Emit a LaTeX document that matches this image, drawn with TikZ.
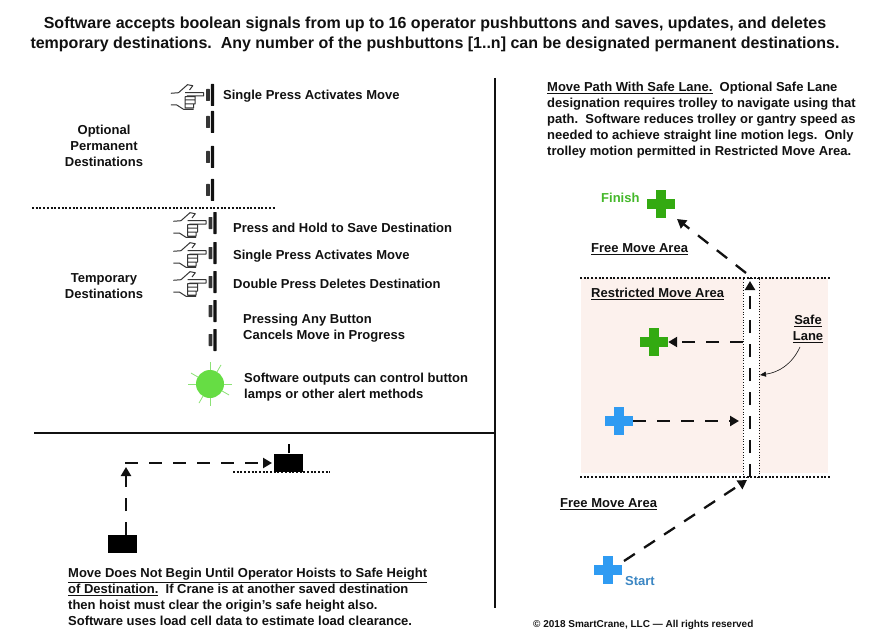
\documentclass[tikz,border=0pt]{standalone}
\usepackage{fontspec}
\setmainfont{Liberation Sans}
\usetikzlibrary{arrows.meta,positioning}
\definecolor{craneInk}{HTML}{111111}
\definecolor{craneGreen}{HTML}{33AA11}
\definecolor{craneFinish}{HTML}{44B82A}
\definecolor{craneBlue}{HTML}{2F9BF2}
\definecolor{craneStart}{HTML}{3C87C4}
\definecolor{craneLamp}{HTML}{66DD44}
\definecolor{craneRay}{HTML}{8CE276}
\definecolor{craneArea}{HTML}{FCF1ED}
\tikzset{
  pushButton/.pic={
    \fill[craneInk,rounded corners=0.6pt] (-1.7,-11) rectangle (1.7,11);
    \fill[craneInk!85,rounded corners=0.6pt] (-6.5,-6) rectangle (-2.6,6);
  },
  pointHand/.pic={
    \draw[craneInk!85,line width=1pt,line join=round]
      (-41.7,1.7) -- (-34,2.3) -- (-25,10.3) -- (-19.7,9.3) -- (-23,5)
      (-27.3,2.3) -- (-9,2.3) -- (-9,-1) -- (-25.7,-1)
      (-27.3,-1.7) rectangle (-17.5,-5)
      (-27.3,-5) rectangle (-17.5,-9)
      (-27.3,-9) rectangle (-19,-13)
      (-41.7,-10) -- (-35.7,-10) -- (-29,-14.3) -- (-19,-14.3);
  }
}
\begin{document}
\begin{tikzpicture}[
  x=1pt,y=1pt,
  >={Triangle[length=9pt,width=10pt]},
  label/.style={font=\fontsize{13}{16}\selectfont\bfseries,text=craneInk,inner sep=0pt,align=left,anchor=west},
  labelmid/.style={label,align=center,anchor=center},
  divider/.style={draw=craneInk,line width=2pt},
  dotline/.style={draw=craneInk,line width=2pt,dash pattern=on 2pt off 1.7pt},
  movepath/.style={draw=craneInk,line width=2.3pt,dash pattern=on 13pt off 11pt},
  plusmark/.style={minimum size=28pt,inner sep=0pt,path picture={
    \fill[#1] (path picture bounding box.center) ++(-14,-4.7) rectangle ++(28,9.4);
    \fill[#1] (path picture bounding box.center) ++(-4.7,-14) rectangle ++(9.4,28);}},
  loadblock/.style={fill=black,inner sep=0pt,minimum width=29pt,minimum height=18pt}]
\useasboundingbox (0,0) rectangle (891,-639);
\fill[white] (0,0) rectangle (891,-639);
% heading
\node[labelmid,font=\fontsize{16}{20}\selectfont\bfseries] (heading) at (435,-34)
{Software accepts boolean signals from up to 16 operator pushbuttons and saves, updates, and deletes\\
temporary destinations.\ \ Any number of the pushbuttons [1..n] can be designated permanent destinations.};
\draw[divider] (495,-78) -- (495,-608);
\draw[divider] (34,-433) -- (495,-433);
% buttons
\foreach \bx/\by in {212.5/95,212.5/122,212.5/157,212.5/190,215/223,215/253,215/282,215/311,215/340}
  \pic at (\bx,-\by) {pushButton};
\foreach \bx/\by in {212.5/95,215/223,215/253,215/282}
  \pic at (\bx,-\by) {pointHand};
\draw[dotline] (32,-208) -- (276,-208);
\node[label] (singleTop) at (223,-96) {Single Press Activates Move};
\node[labelmid] (optional) at (104,-146) {Optional\\Permanent\\Destinations};
\node[labelmid] (temporary) at (104,-286) {Temporary\\Destinations};
\node[label] (holdSave) at (233,-228) {Press and Hold to Save Destination};
\node[label] (singlePress) at (233,-256) {Single Press Activates Move};
\node[label] (doublePress) at (233,-284) {Double Press Deletes Destination};
\node[label] (cancelMove) at (243,-328) {Pressing Any Button\\Cancels Move in Progress};
% lamp
\foreach \ang in {0,60,90,150,180,240,270,330}
  \draw[craneRay,line width=0.8pt] (210,-384) ++(\ang:13) -- ++(\ang:9);
\node[circle,fill=craneLamp,minimum size=28pt,inner sep=0pt] (lamp) at (210,-384) {};
\node[label] (lampText) at (244,-387) {Software outputs can control button\\lamps or other alert methods};
% hoist sketch
\draw[dotline] (233,-472) -- (330,-472);
\node[loadblock] (originLoad) at (122.5,-544) {};
\node[loadblock] (destLoad) at (288.5,-462.5) {};
\coordinate (liftStart) at (126,-535);
\coordinate (liftTop) at (126,-467);
\coordinate (liftCorner) at (125,-463);
\coordinate (destApproach) at (272,-463);
\coordinate (destMast) at (288.5,-444);
\draw[line width=2pt] (destLoad.north) -- (destMast);
\draw[->,movepath] (liftStart) -- (liftTop);
\draw[->,movepath] (liftCorner) -- (destApproach);
\node[label] (hoistText) at (68,-597) {\underline{Move Does Not Begin Until Operator Hoists to Safe Height}\\
\underline{of Destination.}\ \ If Crane is at another saved destination\\
then hoist must clear the origin’s safe height also.\\
Software uses load cell data to estimate load clearance.};
% right side
\node[label] (pathText) at (547,-120.5) {\underline{Move Path With Safe Lane.}\ \ Optional Safe Lane\\
designation requires trolley to navigate using that\\
path.\ \ Software reduces trolley or gantry speed as\\
needed to achieve straight line motion legs.\ \ Only\\
trolley motion permitted in Restricted Move Area.};
\fill[craneArea] (581,-278) rectangle (828,-473);
\node[draw=craneInk,line width=0.7pt,dotted,fill=white,inner sep=0pt,minimum width=16pt,minimum height=199pt] (lane) at (751,-377.5) {};
\draw[dotline] (580,-278) -- (830,-278);
\draw[dotline] (580,-477) -- (830,-477);
\node[plusmark=craneGreen] (finishMark) at (661,-204) {};
\node[plusmark=craneGreen] (midFinish) at (654,-342) {};
\node[plusmark=craneBlue] (midStart) at (619,-421) {};
\node[plusmark=craneBlue] (startMark) at (608,-570) {};
\node[label,text=craneFinish] (finishText) at (601,-198) {Finish};
\node[label,text=craneStart] (startText) at (625,-581) {Start};
\node[label] (freeTop) at (591,-249) {\underline{Free Move Area}};
\node[label] (restricted) at (591,-294) {\underline{Restricted Move Area}};
\node[label] (freeBottom) at (560,-504) {\underline{Free Move Area}};
\node[labelmid] (safeLane) at (808,-329) {\underline{Safe}\\\underline{Lane}};
\coordinate (laneBottom) at (750,-477);
\coordinate (laneTop) at (750,-281);
\coordinate (laneExit) at (746,-273);
\coordinate (laneEntry) at (747,-480);
\coordinate (laneLeft) at (743,-342);
\coordinate (laneIn) at (739,-421);
\coordinate (finishTip) at (677,-219);
\coordinate (startTail) at (624,-561);
\coordinate (safeTail) at (800,-347);
\coordinate (safeTip) at (760,-375);
\draw[->,movepath] (laneBottom) -- (laneTop);
\draw[->,movepath] (laneExit) -- (finishTip);
\draw[->,movepath] (startTail) -- (laneEntry);
\draw[->,movepath] (laneLeft) -- (midFinish.east);
\draw[->,movepath] (midStart.east) -- (laneIn);
\draw[-{Triangle[length=6pt,width=5pt]},line width=0.6pt,draw=craneInk] (safeTail) to[out=245,in=8] (safeTip);
\node[label,font=\fontsize{10}{12}\selectfont\bfseries] (copyright) at (533,-625) {© 2018 SmartCrane, LLC — All rights reserved};
\end{tikzpicture}
\end{document}
